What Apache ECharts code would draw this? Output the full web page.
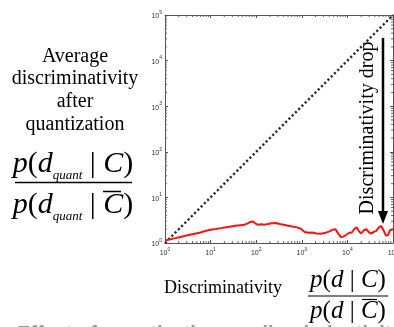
<!DOCTYPE html>
<html><head><meta charset="utf-8">
<script src="https://cdn.jsdelivr.net/npm/echarts@6/dist/echarts.min.js"></script>
<style>html,body{margin:0;padding:0;background:#fff}#c{width:394px;height:327px}</style>
</head><body><div id="c"></div>
<script>
// Discriminativity p(d|C)/p(d|Cbar) (x) and average discriminativity after quantization (y)
var discX = [1,1.3,1.7,2.2,2.8,3.5,4.5,6,8,10,13,17,22,28,35,45,55,65,75,85,95,110,130,150,180,220,270,330,400,500,620,780,950,1150,1400,1700,2100,2600,3200,3900,4700,5500,6300,7200,8200,9300,11000,12500,14000,16000,18000,20000,23000,26000,30000,34000,38000,43000,49000,55000,62000,70000,78000,86000,93000,100000];
var quantY = [1.13,1.2,1.28,1.36,1.44,1.52,1.6,1.7,1.85,1.95,2.03,2.12,2.22,2.3,2.38,2.45,2.5,2.7,2.9,2.95,2.7,2.5,2.58,2.52,2.6,2.72,2.75,2.6,2.5,2.4,2.3,2.2,2.05,1.75,1.68,1.7,1.62,1.6,1.65,1.78,1.95,2.0,1.6,1.35,1.38,1.5,1.68,1.7,2.0,2.2,1.8,1.62,1.9,2.0,1.7,1.62,1.75,1.85,2.2,2.35,1.9,1.45,1.5,1.9,2.1,2.0];
// identity (no quantization) reference line
var diagX = [1, 100000];
var diagY = [1, 100000];
// axis range (decades) and minor tick multipliers
var axisMin = 1, axisMax = 100000;
var decades = [1, 10, 100, 1000, 10000];
var minorMult = [2,3,4,5,6,7,8,9];

var minorVals = [];
decades.forEach(function(d){ minorMult.forEach(function(m){ minorVals.push([d*m, d*m]); }); });

function pairs(xs, ys){ return xs.map(function(x,i){ return [x, ys[i]]; }); }

var labelRich = {
  b: {fontSize: 7, fontFamily: 'Liberation Sans', color: '#333', lineHeight: 10, verticalAlign: 'bottom'},
  e: {fontSize: 5, fontFamily: 'Liberation Sans', color: '#333', lineHeight: 10, verticalAlign: 'top'}
};
function expLabel(v){ return '{b|10}{e|' + Math.round(Math.log10(v)) + '}'; }

function axis(pos, showLabel, isX){
  return {
    type: 'log', logBase: 10, min: axisMin, max: axisMax, position: pos,
    axisLine: {show: true, onZero: false, lineStyle: {color: '#555', width: 1}},
    axisTick: {show: true, inside: true, length: 3, lineStyle: {color: '#555'}},
    minorTick: {show: false},
    splitLine: {show: false},
    axisLabel: {show: showLabel, formatter: expLabel, rich: labelRich, margin: isX ? 4 : 3, hideOverlap: false}
  };
}

var serif = 'Liberation Serif';
var fracRichL = {
  i: {fontSize: 30, fontStyle: 'italic', fontFamily: serif, lineHeight: 36, color: '#000'},
  n: {fontSize: 30, fontFamily: serif, lineHeight: 36, color: '#000'},
  s: {fontSize: 13, fontStyle: 'italic', fontFamily: serif, lineHeight: 16, verticalAlign: 'bottom', color: '#000'}
};
var fracRichR = {
  i: {fontSize: 25, fontStyle: 'italic', fontFamily: serif, lineHeight: 30, color: '#000'},
  n: {fontSize: 25, fontFamily: serif, lineHeight: 30, color: '#000'}
};

var chart = echarts.init(document.getElementById('c'));
chart.setOption({
  animation: false,
  backgroundColor: '#fff',
  grid: {left: 165, right: 1, top: 15, bottom: 84, containLabel: false, outerBoundsMode: 'none'},
  xAxis: [axis('bottom', true, true), axis('top', false, true)],
  yAxis: [axis('left', true, false), axis('right', false, false)],
  series: [
    {type: 'line', data: pairs(diagX, diagY), showSymbol: false, silent: true,
     lineStyle: {color: '#2a2a2a', width: 2.4, type: [2.2, 2.4]}},
    {type: 'line', data: pairs(discX, quantY), showSymbol: false, silent: true,
     lineStyle: {color: '#ff1111', width: 2}},
    {type: 'custom', data: minorVals, silent: true, clip: false,
     renderItem: function(params, api){
       var v = api.value(0);
       var b = api.coord([v, axisMin]), t = api.coord([v, axisMax]);
       var l = api.coord([axisMin, v]), r = api.coord([axisMax, v]);
       var st = {stroke: '#666', lineWidth: 1};
       return {type: 'group', children: [
         {type: 'line', shape: {x1: b[0], y1: b[1], x2: b[0], y2: b[1]-2}, style: st},
         {type: 'line', shape: {x1: t[0], y1: t[1], x2: t[0], y2: t[1]+2}, style: st},
         {type: 'line', shape: {x1: l[0], y1: l[1], x2: l[0]+2, y2: l[1]}, style: st},
         {type: 'line', shape: {x1: r[0], y1: r[1], x2: r[0]-2, y2: r[1]}, style: st}
       ]};
     }}
  ],
  graphic: [
    {type: 'text', x: 75, y: 45, style: {text: 'Average\ndiscriminativity\nafter\nquantization', fontSize: 20, fontFamily: serif, lineHeight: 22.7, align: 'center', verticalAlign: 'top', fill: '#000'}},
    {type: 'text', x: 73, y: 164, style: {text: '{i|p}{n|(}{i|d}{s|quant}{n| | }{i|C}{n|)}', rich: fracRichL, align: 'center', verticalAlign: 'middle'}},
    {type: 'line', shape: {x1: 15, y1: 182.5, x2: 132, y2: 182.5}, style: {stroke: '#000', lineWidth: 1.5}},
    {type: 'text', x: 73, y: 205, style: {text: '{i|p}{n|(}{i|d}{s|quant}{n| | }{i|C}{n|)}', rich: fracRichL, align: 'center', verticalAlign: 'middle'}},
    {type: 'line', shape: {x1: 103, y1: 191.5, x2: 121, y2: 191.5}, style: {stroke: '#000', lineWidth: 1.5}},
    {type: 'text', x: 223, y: 288, style: {text: 'Discriminativity', fontSize: 18, fontFamily: serif, align: 'center', verticalAlign: 'middle', fill: '#000'}},
    {type: 'text', x: 348, y: 280, style: {text: '{i|p}{n|(}{i|d}{n| | }{i|C}{n|)}', rich: fracRichR, align: 'center', verticalAlign: 'middle'}},
    {type: 'line', shape: {x1: 308, y1: 296, x2: 388, y2: 296}, style: {stroke: '#000', lineWidth: 1.2}},
    {type: 'text', x: 348, y: 311, style: {text: '{i|p}{n|(}{i|d}{n| | }{i|C}{n|)}', rich: fracRichR, align: 'center', verticalAlign: 'middle'}},
    {type: 'line', shape: {x1: 362, y1: 299.5, x2: 377, y2: 299.5}, style: {stroke: '#000', lineWidth: 1.2}},
    {type: 'text', x: 368, y: 128, rotation: Math.PI/2, style: {text: 'Discriminativity drop', fontSize: 20, fontFamily: serif, align: 'center', verticalAlign: 'middle', fill: '#000'}},
    {type: 'line', shape: {x1: 383, y1: 38, x2: 383, y2: 214}, style: {stroke: '#000', lineWidth: 2.5}},
    {type: 'polygon', shape: {points: [[378, 211], [388, 211], [383, 224]]}, style: {fill: '#000'}},
    {type: 'text', x: 17, y: 324, style: {text: 'Effect of quantization on discriminativity', fontSize: 20, fontWeight: 'bold', fontFamily: 'Liberation Sans', verticalAlign: 'top', fill: '#999'}}
  ]
});
</script></body></html>
